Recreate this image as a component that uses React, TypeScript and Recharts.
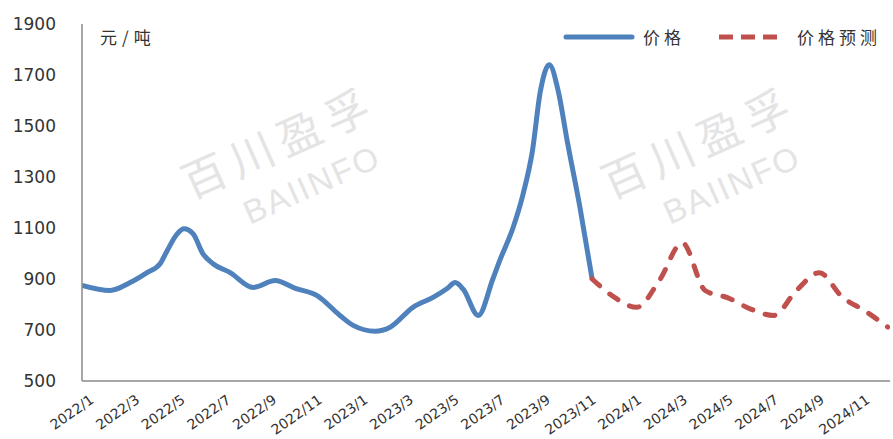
import { Line, LineChart, XAxis, YAxis } from "recharts";

// ── data ─────────────────────────────────────────────────────────────────────

// x positions are in months since 2022/1 (0 = 2022/1)
const priceMonths = [
  -0.3, 0.93, 1.81, 2.55, 3.12, 3.43, 3.87, 4.17, 4.57, 5.0, 5.44, 6.19, 7.2,
  8.16, 9.05, 10.0, 11.0, 11.58, 12.54, 13.2, 14.2, 15.08, 15.7, 16.05, 16.4,
  17.06, 17.7, 18.0, 18.58, 19.03, 19.43, 19.78, 20.17, 20.57, 20.96, 21.52,
  22.05,
];
const priceValues = [
  875, 855, 886, 925, 960, 1011, 1077, 1097, 1077, 999, 960, 925, 867,
  894, 863, 835, 757, 718, 695, 711, 789, 828, 863, 886, 860,
  757, 900, 972, 1100, 1235, 1400, 1635, 1740, 1635, 1440, 1179,
  900,
];

const forecastMonths = [22.05, 23, 24, 25, 26, 27, 28, 29, 30, 31, 32, 33, 34, 35];
const forecastValues = [900, 830, 789, 895, 1042, 855, 826, 782, 757, 855, 925, 830, 775, 712];

const tickMonths = [0, 2, 4, 6, 8, 10, 12, 14, 16, 18, 20, 22, 24, 26, 28, 30, 32, 34];
const tickLabels = [
  "2022/1", "2022/3", "2022/5", "2022/7", "2022/9", "2022/11",
  "2023/1", "2023/3", "2023/5", "2023/7", "2023/9", "2023/11",
  "2024/1", "2024/3", "2024/5", "2024/7", "2024/9", "2024/11",
];
const yTicks = [500, 700, 900, 1100, 1300, 1500, 1700, 1900];

const data = [
  ...priceMonths.map((m, i) => ({ m, price: priceValues[i] })),
  ...forecastMonths.map((m, i) => ({ m, forecast: forecastValues[i] })),
];

const BLUE = "#4F81BD";
const RED = "#C0504D";
const AXIS = "#8a8a8a";
const TEXT = "#333";
const CJK = '"Noto Sans CJK SC", sans-serif';

function MonthTick(props: any) {
  const { x, y, payload } = props;
  const idx = tickMonths.indexOf(payload.value);
  const ax = x + 6;
  const ay = y + 19;
  return (
    <text
      x={ax}
      y={ay}
      textAnchor="end"
      fontSize={14}
      fill={TEXT}
      fontFamily="DejaVu Sans"
      transform={`rotate(-35, ${ax}, ${ay})`}
    >
      {tickLabels[idx]}
    </text>
  );
}

function Watermark({ cx, cy }: { cx: number; cy: number }) {
  const common = {
    position: "absolute" as const,
    whiteSpace: "nowrap" as const,
    color: "#e4e4e4",
    transform: "translate(-50%, -50%) rotate(-24deg)",
  };
  return (
    <>
      <div style={{ ...common, left: cx, top: cy, fontFamily: CJK, fontSize: 44, letterSpacing: 8 }}>
        百川盈孚
      </div>
      <div
        style={{
          ...common,
          left: cx + 34,
          top: cy + 45,
          fontFamily: "Liberation Sans",
          fontSize: 33,
          letterSpacing: 2,
        }}
      >
        BAIINFO
      </div>
    </>
  );
}

export default function App() {
  return (
    <div
      style={{
        position: "absolute",
        left: 0,
        top: 0,
        width: 893,
        height: 439,
        background: "#fff",
        overflow: "hidden",
      }}
    >
      <Watermark cx={278} cy={140} />
      <Watermark cx={698} cy={140} />

      <div style={{ position: "absolute", left: 0, top: 0 }}>
        <LineChart width={893} height={439} data={data} margin={{ top: 24, right: 3, bottom: 0, left: 0 }}>
          <XAxis
            type="number"
            dataKey="m"
            domain={[-0.3, 35.1]}
            ticks={tickMonths}
            interval={0}
            height={58}
            allowDataOverflow
            tick={<MonthTick />}
            tickLine={false}
            tickSize={0}
            tickMargin={2}
            axisLine={{ stroke: AXIS, strokeWidth: 1.5 }}
          />
          <YAxis
            type="number"
            domain={[500, 1900]}
            ticks={yTicks}
            interval={0}
            width={82}
            tickLine={false}
            tickSize={0}
            tickMargin={26}
            axisLine={{ stroke: AXIS, strokeWidth: 1.5 }}
            tick={{ fontSize: 17, fill: TEXT, fontFamily: "DejaVu Sans" }}
          />
          <Line
            type="monotone"
            dataKey="price"
            stroke={BLUE}
            strokeWidth={5}
            dot={false}
            activeDot={false}
            connectNulls={false}
            isAnimationActive={false}
          />
          <Line
            type="monotone"
            dataKey="forecast"
            stroke={RED}
            strokeWidth={5}
            strokeDasharray="10 13"
            strokeLinecap="round"
            dot={false}
            activeDot={false}
            connectNulls={false}
            isAnimationActive={false}
          />
        </LineChart>
      </div>

      {/* unit label */}
      <div
        style={{
          position: "absolute",
          left: 100,
          top: 24,
          fontFamily: CJK,
          fontSize: 17,
          letterSpacing: 5,
          color: TEXT,
        }}
      >
        元/吨
      </div>

      {/* legend */}
      <svg style={{ position: "absolute", left: 560, top: 28 }} width={230} height={20}>
        <line x1={6} y1={9} x2={72} y2={9} stroke={BLUE} strokeWidth={5} strokeLinecap="round" />
        <line x1={159} y1={9} x2={218} y2={9} stroke={RED} strokeWidth={5} strokeDasharray="14 8" />
      </svg>
      <div style={{ position: "absolute", left: 643, top: 24, fontFamily: CJK, fontSize: 17, letterSpacing: 4, color: TEXT }}>
        价格
      </div>
      <div style={{ position: "absolute", left: 797, top: 24, fontFamily: CJK, fontSize: 17, letterSpacing: 4, color: TEXT }}>
        价格预测
      </div>
    </div>
  );
}
